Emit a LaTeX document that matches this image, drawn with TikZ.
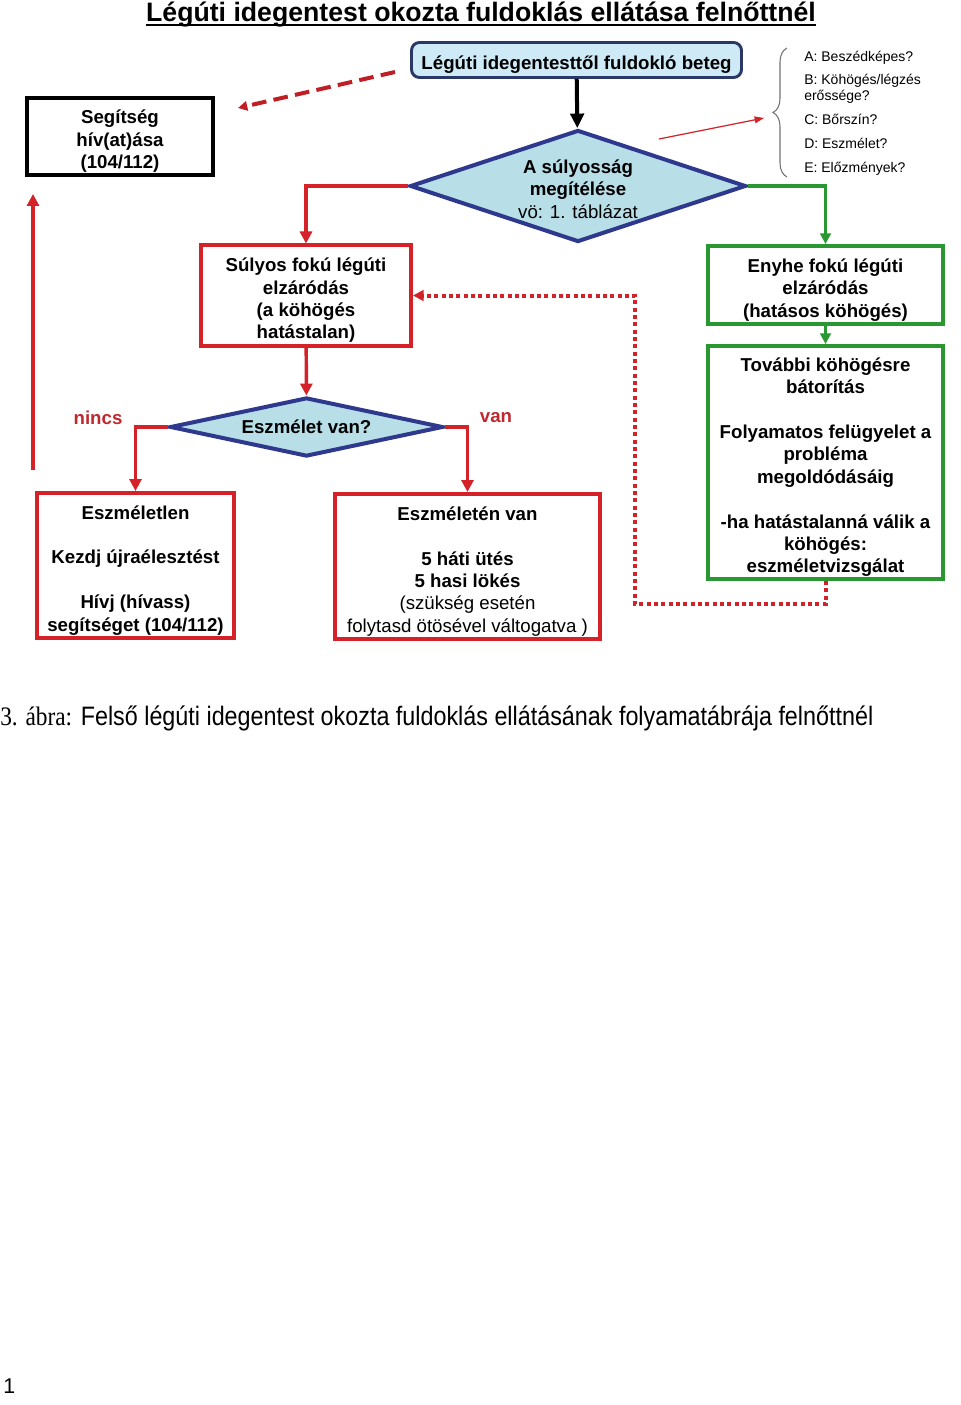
\documentclass[tikz,border=0pt]{standalone}
\usepackage{fontspec}
\usepackage{graphicx}
\setmainfont{Liberation Sans}
\newfontfamily\capserif{Liberation Serif}
\usetikzlibrary{arrows.meta,shapes.geometric,decorations.pathreplacing}

\definecolor{boxred}{RGB}{212,34,40}
\definecolor{labelred}{RGB}{190,40,46}
\definecolor{boxgreen}{RGB}{42,152,48}
\definecolor{rhomblue}{RGB}{46,56,140}
\definecolor{rhomfill}{RGB}{184,222,232}
\definecolor{startfill}{RGB}{206,234,246}
\definecolor{startline}{RGB}{42,56,104}

\newdimen\unitpx
\unitpx=0.75pt
\newcommand{\boxfont}{\fontsize{14}{16.8}\selectfont\bfseries}
% taller first line, so the text sits a little lower in its box
\newcommand{\topstrut}{\rule{0pt}{1.25em}}

\begin{document}
\begin{tikzpicture}[x=0.75pt,y=-0.75pt,
  redbox/.style={draw=boxred, line width=3pt, align=center, inner sep=0pt, font=\boxfont},
  greenbox/.style={draw=boxgreen, line width=3pt, align=center, inner sep=0pt, font=\boxfont},
  rhombus/.style={diamond, draw=rhomblue, fill=rhomfill, line width=3pt, align=center, inner sep=0pt, font=\boxfont},
  redline/.style={boxred, line width=2.6pt, -{Triangle[length=9pt,width=9pt]}},
  greenline/.style={boxgreen, line width=2.6pt, -{Triangle[length=8pt,width=8pt]}},
  labeltext/.style={labelred, font=\boxfont, inner sep=0pt}]
\useasboundingbox (0,0) rectangle (960,1405);
\fill[white] (0,0) rectangle (960,1405);

% title
\node[anchor=base, inner sep=0pt, font=\fontsize{20}{24}\selectfont\bfseries] (title) at (481,22) {Légúti idegentest okozta fuldoklás ellátása felnőttnél};
\draw[line width=1.5pt] ([yshift=-2.2pt]title.base west) -- ([yshift=-2.2pt]title.base east);

% boxes
\node[draw=startline, fill=startfill, line width=2.2pt, rounded corners=6pt, inner sep=0pt, font=\boxfont,
  minimum width=330*\unitpx, minimum height=35*\unitpx] (start) at (576.5,60) {\topstrut Légúti idegentesttől fuldokló beteg};
\node[rhombus, aspect=3, minimum width=336*\unitpx, minimum height=112*\unitpx] (sev) at (578,186)
  {\rule{0pt}{1.05em}A súlyosság\\megítélése\\\mdseries vö: 1. táblázat};
\node[draw=black, line width=3pt, align=center, inner sep=0pt, font=\boxfont,
  minimum width=186*\unitpx, minimum height=77*\unitpx] (help) at (120,136.5) {\topstrut Segítség\\hív(at)ása\\(104/112)};

\node[redbox, minimum width=210*\unitpx, minimum height=100*\unitpx] (severe) at (306,295.5)
  {\topstrut Súlyos fokú légúti\\elzáródás\\(a köhögés\\hatástalan)};
\node[greenbox, minimum width=235*\unitpx, minimum height=78*\unitpx] (mild) at (825.5,285)
  {\topstrut Enyhe fokú légúti\\elzáródás\\(hatásos köhögés)};
\node[greenbox, minimum width=235*\unitpx, minimum height=233*\unitpx] (encourage) at (825.5,462.5)
  {\topstrut További köhögésre\\bátorítás\\[16.8pt]Folyamatos felügyelet a\\probléma\\megoldódásáig\\[16.8pt]-ha hatástalanná válik a\\köhögés:\\eszméletvizsgálat};

\node[rhombus, aspect=4.63, minimum width=273*\unitpx, minimum height=59*\unitpx] (consc) at (306.5,427) {Eszmélet van?};
\node[labeltext] (nincs) at (98,418) {nincs};
\node[labeltext] (van) at (496,418) {van};

\node[redbox, minimum width=197*\unitpx, minimum height=145*\unitpx] (uncons) at (135.5,565.5)
  {\topstrut Eszméletlen\\[16.8pt]Kezdj újraélesztést\\[16.8pt]Hívj (hívass)\\segítséget (104/112)};
\node[redbox, minimum width=265*\unitpx, minimum height=145*\unitpx] (cons) at (467.5,566.5)
  {\topstrut Eszméletén van\\[16.8pt]5 háti ütés\\5 hasi lökés\\\mdseries (szükség esetén\\\mdseries folytasd ötösével váltogatva )};

% questions
\node[anchor=north west, align=left, inner sep=0pt, font=\fontsize{10.5}{11.6}\selectfont, text=black] (checks) at (804,50.5)
  {A: Beszédképes?\\[6.3pt]B: Köhögés/légzés\\erőssége?\\[6.3pt]C: Bőrszín?\\[6.3pt]D: Eszmélet?\\[6.3pt]E: Előzmények?};
\draw[black!55, line width=0.8pt, decorate, decoration={brace, amplitude=10.5pt}] (787,177) -- (787,48);

% connectors
\coordinate (pointfrom) at (659,139);
\coordinate (pointto) at (764,118);
\coordinate (dashfrom) at (395,72);
\coordinate (dashto) at (238,108);
\coordinate (upfrom) at (33,470);
\coordinate (upto) at (33,194);
\coordinate (dotturn) at (635,604);

\draw[line width=3pt, -{Triangle[length=11pt,width=10pt]}] (start) -- (sev);
\draw[redline] (sev.west) -| (severe.north);
\draw[greenline] (sev.east) -| (mild.north);
\draw[redline] (severe) -- (consc);
\draw[redline] (consc.west) -| (uncons.north);
\draw[redline] (consc.east) -| (cons.north);
\draw[greenline] (mild) -- (encourage);
\draw[boxred, line width=3pt, dash pattern=on 3pt off 2.5pt, -{Triangle[length=8pt,width=8pt]}]
  (encourage.south) |- (dotturn) |- (severe.east);
\draw[boxred!90!black, line width=3pt, dash pattern=on 11pt off 5.5pt, -{Triangle[length=7pt,width=7pt]}] (dashfrom) -- (dashto);
\draw[redline] (upfrom) -- (upto);
\draw[boxred, line width=0.9pt, -{Triangle[length=7pt,width=5pt]}] (pointfrom) -- (pointto);

% caption
\node[anchor=base west, inner sep=0pt, font=\fontsize{20}{24}\selectfont] (caption) at (0,725)
  {\scalebox{0.875}[1]{{\capserif 3. ábra:} Felső légúti idegentest okozta fuldoklás ellátásának folyamatábrája felnőttnél}};
\node[anchor=base west, inner sep=0pt, font=\fontsize{16}{19}\selectfont] (pagenum) at (3,1393) {1};
\end{tikzpicture}
\end{document}
